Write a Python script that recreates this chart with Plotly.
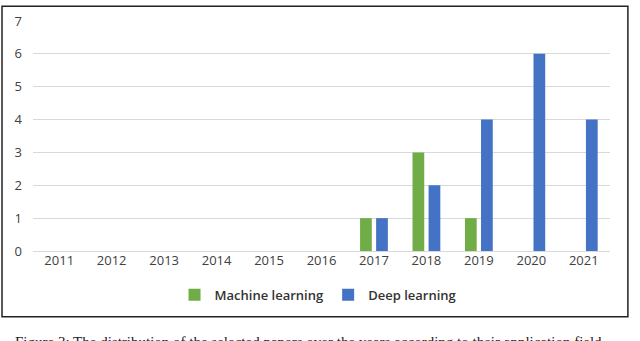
import plotly.graph_objects as go

# Number of papers per year
years = ['2011', '2012', '2013', '2014', '2015', '2016', '2017', '2018', '2019', '2020', '2021']
machine_learning = [0, 0, 0, 0, 0, 0, 1, 3, 1, 0, 0]
deep_learning = [0, 0, 0, 0, 0, 0, 1, 2, 4, 6, 4]
y_ticks = [0, 1, 2, 3, 4, 5, 6, 7]

fig = go.Figure()

fig.add_trace(go.Bar(
    x=years, y=machine_learning,
    name='Machine learning',
    marker=dict(color='#70AD47', line_width=0),
))
fig.add_trace(go.Bar(
    x=years, y=deep_learning,
    name='Deep learning',
    marker=dict(color='#4472C4', line_width=0),
))

# frame around the chart
fig.add_shape(type='rect', xref='paper', yref='paper',
              x0=-0.0537, x1=1.031, y0=-0.286, y1=1.064,
              line=dict(color='#222222', width=1.5), layer='above')

# figure caption, cut off at the bottom of the image
fig.add_annotation(
    xref='paper', yref='paper', x=-0.035, y=-0.352,
    xanchor='left', yanchor='top', showarrow=False,
    text='Figure 3: The distribution of the selected papers over the years according to their application field',
    font=dict(family='Liberation Serif', size=15, color='#222222'),
)

fig.update_layout(
    width=640, height=341,
    margin=dict(l=33, r=30, t=17, b=90),
    paper_bgcolor='white',
    plot_bgcolor='white',
    barmode='group',
    bargap=0.387,
    bargroupgap=0.27,
    font=dict(family='Open Sans', size=13, color='#404040'),
    showlegend=True,
    legend=dict(
        orientation='h', x=0.494, xanchor='center', y=-0.19, yanchor='middle',
        font=dict(size=13, color='#333333', weight=600),
        itemwidth=30, tracegroupgap=0,
    ),
    xaxis=dict(
        showgrid=False, showline=False, ticks='',
        tickfont=dict(size=13, color='#404040'),
    ),
    yaxis=dict(
        range=[0, 7], tickvals=y_ticks,
        showgrid=True, gridcolor='#d9d9d9', gridwidth=1,
        zeroline=True, zerolinecolor='#d9d9d9', zerolinewidth=1,
        ticks='', ticklabelstandoff=10,
        tickfont=dict(size=13, color='#404040'),
    ),
)

fig.write_html('out.html', config={'displayModeBar': False},
               post_script="document.body.style.margin='0';document.body.style.overflow='hidden';")
